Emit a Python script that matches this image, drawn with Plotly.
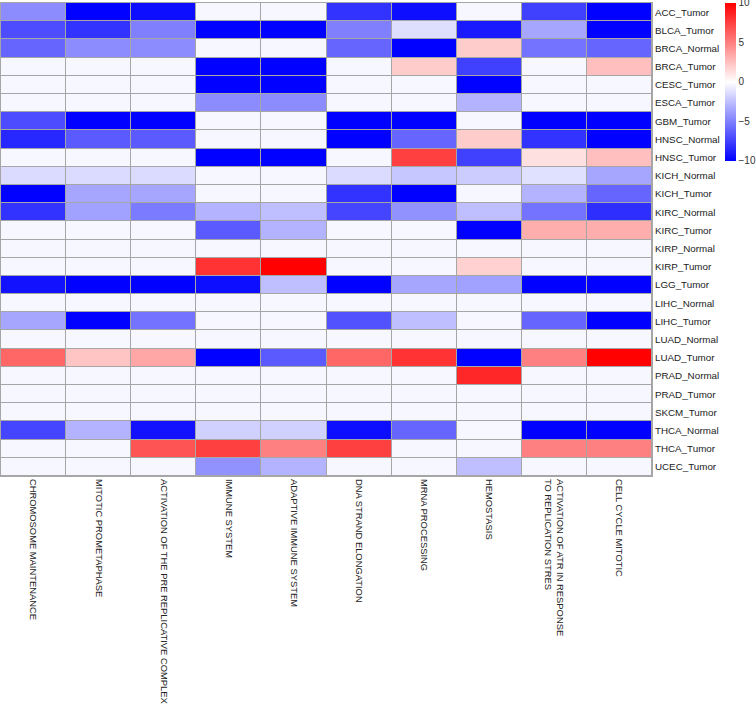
import plotly.graph_objects as go

pathways = [
    "CHROMOSOME MAINTENANCE",
    "MITOTIC PROMETAPHASE",
    "ACTIVATION OF THE PRE REPLICATIVE COMPLEX",
    "IMMUNE SYSTEM",
    "ADAPTIVE IMMUNE SYSTEM",
    "DNA STRAND ELONGATION",
    "MRNA PROCESSING",
    "HEMOSTASIS",
    "ACTIVATION OF ATR IN RESPONSE<br>TO REPLICATION STRES",
    "CELL CYCLE MITOTIC",
]

samples = [
    "ACC_Tumor", "BLCA_Tumor", "BRCA_Normal", "BRCA_Tumor", "CESC_Tumor",
    "ESCA_Tumor", "GBM_Tumor", "HNSC_Normal", "HNSC_Tumor", "KICH_Normal",
    "KICH_Tumor", "KIRC_Normal", "KIRC_Tumor", "KIRP_Normal", "KIRP_Tumor",
    "LGG_Tumor", "LIHC_Normal", "LIHC_Tumor", "LUAD_Normal", "LUAD_Tumor",
    "PRAD_Normal", "PRAD_Tumor", "SKCM_Tumor", "THCA_Normal", "THCA_Tumor",
    "UCEC_Tumor",
]

W = -0.3  # near-zero cells

acc_tumor   = [-4.5, -10, -9.5, W, W, -8.0, -9.5, W, -7.5, -10]
blca_tumor  = [-7.0, -8.0, -5.0, -10, -10, -5.0, -1.3, -9.0, -3.5, -10]
brca_normal = [-6.0, -4.5, -4.5, W, W, -6.0, -10, 2.0, -5.5, -6.0]
brca_tumor  = [W, W, W, -10, -10, W, 2.0, -7.5, W, 2.5]
cesc_tumor  = [W, W, W, -10, -10, W, W, -10, W, W]
esca_tumor  = [W, W, W, -4.5, -4.5, W, W, -3.0, W, W]
gbm_tumor   = [-7.0, -10, -10, W, W, -10, -10, W, -10, -10]
hnsc_normal = [-8.5, -6.5, -6.5, W, W, -10, -6.0, 2.0, -8.0, -10]
hnsc_tumor  = [W, W, W, -10, -10, W, 7.5, -7.5, 1.2, 2.5]
kich_normal = [-1.4, -1.4, -1.4, W, W, -1.4, -2.2, -2.0, -1.2, -3.5]
kich_tumor  = [-10, -3.5, -3.5, W, W, -8.0, -10, W, -3.0, -6.0]
kirc_normal = [-8.0, -3.7, -5.2, -3.0, -2.5, -7.3, -4.3, -2.5, -5.5, -8.2]
kirc_tumor  = [W, W, W, -6.5, -3.0, W, W, -10, 3.2, 3.2]
kirp_normal = [W, W, W, W, W, W, W, W, W, W]
kirp_tumor  = [W, W, W, 8.0, 10, W, W, 1.8, W, W]
lgg_tumor   = [-9.3, -10, -10, -9.5, -2.5, -10, -3.5, -3.7, -10, -10]
lihc_normal = [W, W, W, W, W, W, W, W, W, W]
lihc_tumor  = [-3.5, -10, -5.5, W, W, -6.8, -2.5, W, -6.0, -10]
luad_normal = [W, W, W, W, W, W, W, W, W, W]
luad_tumor  = [6.0, 2.3, 3.5, -10, -6.5, 6.0, 8.0, -10, 5.0, 10]
prad_normal = [W, W, W, W, W, W, W, 8.5, W, W]
prad_tumor  = [W, W, W, W, W, W, W, W, W, W]
skcm_tumor  = [W, W, W, W, W, W, W, W, W, W]
thca_normal = [-7.3, -3.0, -9.3, -1.8, -1.8, -9.5, -6.0, W, -10, -10]
thca_tumor  = [W, W, 6.7, 7.5, 5.0, 7.5, W, W, 5.0, 5.0]
ucec_tumor  = [W, W, W, -4.3, -3.0, W, W, -2.5, W, W]

z = [acc_tumor, blca_tumor, brca_normal, brca_tumor, cesc_tumor, esca_tumor,
     gbm_tumor, hnsc_normal, hnsc_tumor, kich_normal, kich_tumor, kirc_normal,
     kirc_tumor, kirp_normal, kirp_tumor, lgg_tumor, lihc_normal, lihc_tumor,
     luad_normal, luad_tumor, prad_normal, prad_tumor, skcm_tumor,
     thca_normal, thca_tumor, ucec_tumor]

colorbar_ticks = [-10, -5, 0, 5, 10]
colorbar_ticktext = ["\u221210", "\u22125", "0", "5", "10"]

grid = "#A6A6A6"
font_family = "Liberation Sans, Arial, sans-serif"

fig = go.Figure(go.Heatmap(
    z=z, x=pathways, y=samples,
    zmin=-10.02, zmax=10.02,
    colorscale=[[0, "#0000FF"], [0.5, "#FFFFFF"], [1, "#FF0000"]],
    xgap=1, ygap=1,
    colorbar=dict(
        x=725 / 756, xanchor="left", xref="container",
        y=1 - 4 / 708, yanchor="top", yref="container",
        lenmode="pixels", len=158,
        thicknessmode="pixels", thickness=11,
        xpad=0, ypad=0, outlinewidth=0,
        tickvals=colorbar_ticks, ticktext=colorbar_ticktext,
        ticks="", ticklabeloverflow="allow",
        tickfont=dict(size=10, color="#333333", family=font_family),
    ),
    hoverongaps=False,
))

fig.update_layout(
    width=756, height=708,
    margin=dict(l=1, r=104, t=3, b=232, autoexpand=False),
    plot_bgcolor=grid, paper_bgcolor="white",
    font=dict(family=font_family, size=10, color="#222222"),
)
fig.update_xaxes(
    tickangle=90, side="bottom", showgrid=False, zeroline=False,
    showline=True, linecolor=grid, linewidth=1, mirror=True,
    ticks="", automargin=False, tickfont=dict(size=9.4, color="#222222"),
)
fig.update_yaxes(
    autorange="reversed", side="right", showgrid=False, zeroline=False,
    showline=True, linecolor=grid, linewidth=1, mirror=True,
    ticks="", automargin=False, tickfont=dict(size=9.8, color="#222222"),
)

fig.write_html(
    "out.html",
    config={"displayModeBar": False},
    post_script="document.body.style.margin='0';document.body.style.overflow='hidden';",
)
